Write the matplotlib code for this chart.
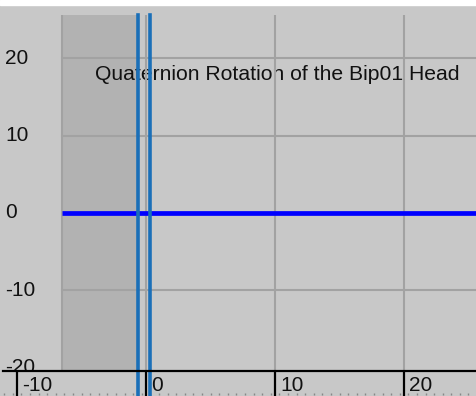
import numpy as np
import matplotlib.pyplot as plt
from matplotlib.transforms import blended_transform_factory, offset_copy

# data
frames = [-6.5, 25.7]
rotation = [0, 0]
range_start = -6.5
range_end = -0.7
markers = [-0.6, 0.3]
xticks = [-10, 0, 10, 20]
yticks = [-20, -10, 0, 10, 20]
grid_x = [-6.5, 0, 10, 20]
grid_y = [-10, 0, 10, 20]
title = 'Quaternion Rotation of the Bip01 Head'

W, H = 477, 396
FONT = 'Liberation Sans'
fig = plt.figure(figsize=(W / 100, H / 100), dpi=100, facecolor='#c8c8c8')
# white strip on top
fig.patches.append(plt.Rectangle((0, 1 - 5 / H), 1, 5 / H, transform=fig.transFigure,
                                 color='white', zorder=0))

ax = fig.add_axes([3 / W, 25 / H, 474 / W, 356 / H])
ax.set_facecolor('#c8c8c8')
ax.set_xlim(-11.1, 25.66)
ax.set_ylim(-20.45, 25.6)

for s in ['top', 'right', 'left']:
    ax.spines[s].set_visible(False)
ax.spines['bottom'].set_color('black')
ax.spines['bottom'].set_linewidth(1.6)
ax.spines['bottom'].set_zorder(6)

# shaded range
ax.axvspan(range_start, range_end, color='#b2b2b2', lw=0, zorder=0.5)

# grid
for g in grid_y:
    ax.plot([range_start, 25.66], [g, g], color='#a2a2a2', lw=1.5, zorder=2)
for g in grid_x:
    ax.axvline(g, color='#a2a2a2', lw=1.5, zorder=2)

ax.text((95 - 3) / 474, (371 - 74) / 356, title, transform=ax.transAxes,
        fontsize=15.2, family=FONT, color='#111111', va='center', ha='left', zorder=1)

ax.plot(frames, rotation, color='#0000ff', lw=3.4, solid_capstyle='butt', zorder=3)

for m in markers:
    ax.axvline(m, ymin=-25 / 356, ymax=1, color='#1a6fb8', lw=2.6, zorder=4, clip_on=False)

# y labels inside the plot
ty = blended_transform_factory(ax.transAxes, ax.transData)
for v in yticks:
    ax.text(2 / 474, v, str(v), transform=ty, fontsize=15, family=FONT,
            va='center', ha='left', color='#111111', clip_on=True, zorder=1)
ax.set_yticks([])

# x ticks drawn as bars with labels to their right
ax.set_xticks(xticks)
ax.set_xticklabels([])
ax.tick_params(axis='x', length=18, width=1.6, color='black', direction='out')
tx = blended_transform_factory(ax.transData, ax.transAxes)
for v in xticks:
    ax.text(v, 0, str(v), transform=offset_copy(tx, fig=fig, x=5, y=-5, units='dots'),
            fontsize=15, family=FONT, va='top', ha='left', color='#111111',
            clip_on=False)

dots = np.arange(-11, 26, 10 / 15)
ax.plot(dots, np.full(len(dots), -23 / 356), ls='none', marker='|', ms=2,
        color='#888888', transform=tx, clip_on=False)

fig.savefig('out.png', dpi=100, facecolor=fig.get_facecolor())
